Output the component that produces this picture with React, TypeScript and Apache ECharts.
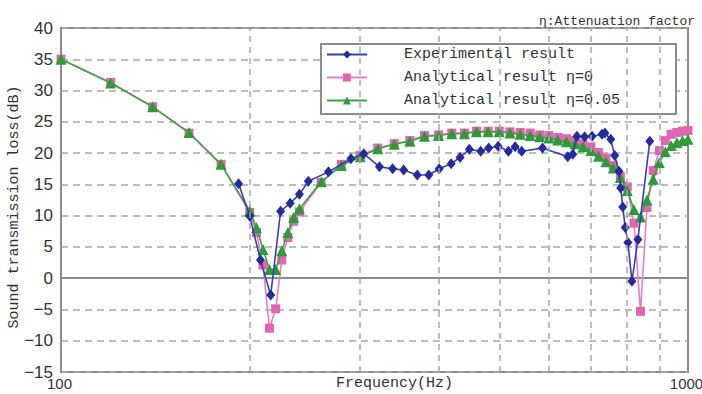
import React, { useEffect, useRef } from "react";
import * as echarts from "echarts";

// Analytical results (η = 0 and η = 0.05)
const anaFreq = [100, 120, 140, 160, 180, 200, 205, 210, 215, 220, 225, 230, 235, 240, 260, 280, 300, 320, 340, 360, 380, 400, 420, 440, 460, 480, 500, 520, 540, 560, 580, 600, 620, 640, 660, 680, 700, 720, 740, 760, 780, 800, 820, 840, 860, 880, 900, 920, 940, 960, 980, 1000];
const eta0 = [35.0, 31.3, 27.4, 23.2, 18.2, 10.5, 7.3, 2.1, -8.0, -4.9, 2.9, 6.5, 9.1, 10.6, 15.3, 18.2, 19.6, 20.8, 21.5, 22.0, 22.8, 22.9, 23.2, 23.2, 23.5, 23.5, 23.5, 23.4, 23.3, 23.2, 22.9, 22.8, 22.5, 22.3, 22.0, 21.5, 21.0, 20.1, 19.2, 18.0, 16.3, 14.6, 8.8, -5.3, 11.3, 17.2, 20.4, 22.0, 23.0, 23.3, 23.5, 23.6];
const eta005 = [35.0, 31.2, 27.4, 23.3, 18.2, 10.8, 8.1, 4.6, 1.4, 1.4, 4.4, 7.3, 9.7, 11.1, 15.4, 18.0, 19.4, 20.7, 21.4, 21.9, 22.7, 22.8, 23.1, 23.1, 23.4, 23.4, 23.4, 23.2, 23.0, 22.8, 22.6, 22.4, 22.1, 21.8, 21.5, 21.0, 20.4, 19.5, 18.6, 17.6, 16.1, 14.0, 11.0, 9.8, 12.5, 15.8, 18.5, 20.2, 21.2, 21.7, 22.0, 22.2];

// Experimental result
const expFreq = [192, 200, 208, 216, 224, 232, 240, 248, 267, 290, 304, 322, 338, 352, 370, 386, 401, 419, 433, 448, 467, 481, 498, 517, 530, 543, 586, 643, 655, 665, 684, 703, 729, 737, 753, 764, 776, 781, 787, 794, 802, 814, 832, 869];
const expVal = [15.1, 9.9, 2.9, -2.7, 10.7, 12.0, 13.4, 15.5, 17.0, 19.1, 19.9, 17.8, 17.5, 17.3, 16.5, 16.5, 17.5, 18.3, 19.3, 20.6, 20.3, 20.8, 21.1, 20.3, 21.0, 20.3, 20.8, 19.4, 19.8, 22.7, 22.6, 22.7, 23.0, 23.2, 22.2, 19.6, 17.1, 14.4, 11.4, 8.1, 5.7, -0.5, 6.2, 21.9];

// Vertical grid lines (Hz)
const vGrid = [200, 300, 400, 500, 600, 700, 800, 900];

const seriesNames = ["Experimental result", "Analytical result η=0", "Analytical result η=0.05"];

const MONO = "'Liberation Mono', 'DejaVu Sans Mono', monospace";
const SANS = "'Liberation Sans', 'Noto Sans', sans-serif";

export default function App() {
  const ref = useRef<HTMLDivElement>(null);
  useEffect(() => {
    if (!ref.current) return;
    const chart = echarts.init(ref.current, undefined, { renderer: "svg" });
    const pair = (xs: number[], ys: number[]) => xs.map((x, i) => [x, ys[i]]);
    chart.setOption({
      animation: false,
      backgroundColor: "#ffffff",
      title: {
        text: "η:Attenuation factor",
        right: 2,
        top: 10,
        textStyle: { fontFamily: MONO, fontSize: 13, fontWeight: "normal", color: "#333" },
      },
      grid: {
        left: 61,
        right: 14,
        top: 28,
        bottom: 22,
        containLabel: false,
        outerBoundsMode: "none",
        show: true,
        borderColor: "#8c8c8c",
        borderWidth: 2,
      },
      graphic: [
        {
          type: "rect",
          left: 320,
          top: 43,
          z: 3,
          shape: { width: 355, height: 70 },
          style: { fill: "#ffffff", stroke: "#8c8c8c", lineWidth: 2 },
        },
      ],
      legend: {
        data: seriesNames,
        orient: "vertical",
        left: 321,
        top: 47,
        z: 5,
        padding: [0, 0, 0, 5],
        itemWidth: 40,
        itemHeight: 10,
        itemGap: 8,
        textStyle: { fontFamily: MONO, fontSize: 15, color: "#333", lineHeight: 14, padding: [0, 0, 0, 32] },
      },
      xAxis: {
        type: "log",
        logBase: 10,
        min: 100,
        max: 1000,
        axisLine: { show: true, lineStyle: { color: "#8c8c8c", width: 2 } },
        axisTick: { show: false },
        axisLabel: {
          fontFamily: SANS,
          fontSize: 15,
          color: "#333",
          margin: 4,
          lineHeight: 15,
          padding: [0, 3, 0, 0],
          formatter: (v: number) => String(Math.round(v)),
        },
        splitLine: { show: false },
        name: "Frequency(Hz)",
        nameLocation: "middle",
        nameMoveOverlap: false,
        nameGap: 4,
        nameTextStyle: { fontFamily: MONO, fontSize: 15, lineHeight: 15, color: "#333", padding: [0, 0, 0, 40] },
      },
      yAxis: {
        type: "value",
        min: -15,
        max: 40,
        interval: 5,
        axisLine: { show: true, lineStyle: { color: "#8c8c8c", width: 2 } },
        axisTick: { show: false },
        axisLabel: {
          fontFamily: SANS,
          fontSize: 17,
          color: "#333",
          margin: 8,
          formatter: (v: number) => String(v).replace("-", "−"),
        },
        splitLine: { show: true, lineStyle: { color: "#a8a8a8", width: 1.5, type: [7, 5] } },
        name: "Sound transmission loss(dB)",
        nameLocation: "middle",
        nameMoveOverlap: false,
        nameGap: 39,
        nameTextStyle: { fontFamily: MONO, fontSize: 15, lineHeight: 15, color: "#333", padding: [0, 14, 0, 0] },
      },
      series: [
        {
          name: "vgrid",
          type: "line",
          data: [],
          z: 1,
          silent: true,
          markLine: {
            silent: true,
            symbol: ["none", "none"],
            label: { show: false },
            lineStyle: { color: "#a8a8a8", width: 1.5, type: [6, 5] },
            data: vGrid.map((v) => ({ xAxis: v })),
          },
        },
        {
          name: seriesNames[1],
          type: "line",
          data: pair(anaFreq, eta0),
          symbol: "rect",
          symbolSize: 9,
          lineStyle: { color: "#e57fc3", width: 1.6 },
          itemStyle: { color: "#e066b3" },
          z: 2,
        },
        {
          name: seriesNames[2],
          type: "line",
          data: pair(anaFreq, eta005),
          symbol: "triangle",
          symbolSize: 11,
          lineStyle: { color: "#44a044", width: 1.6 },
          itemStyle: { color: "#2f9a3a" },
          z: 3,
        },
        {
          name: seriesNames[0],
          type: "line",
          data: pair(expFreq, expVal),
          symbol: "diamond",
          symbolSize: [9, 11],
          lineStyle: { color: "#3a3fae", width: 1.6 },
          itemStyle: { color: "#262b9a" },
          z: 4,
        },
      ],
    });
    return () => chart.dispose();
  }, []);
  return <div ref={ref} style={{ width: 702, height: 394, position: "absolute", left: 0, top: 0 }} />;
}
